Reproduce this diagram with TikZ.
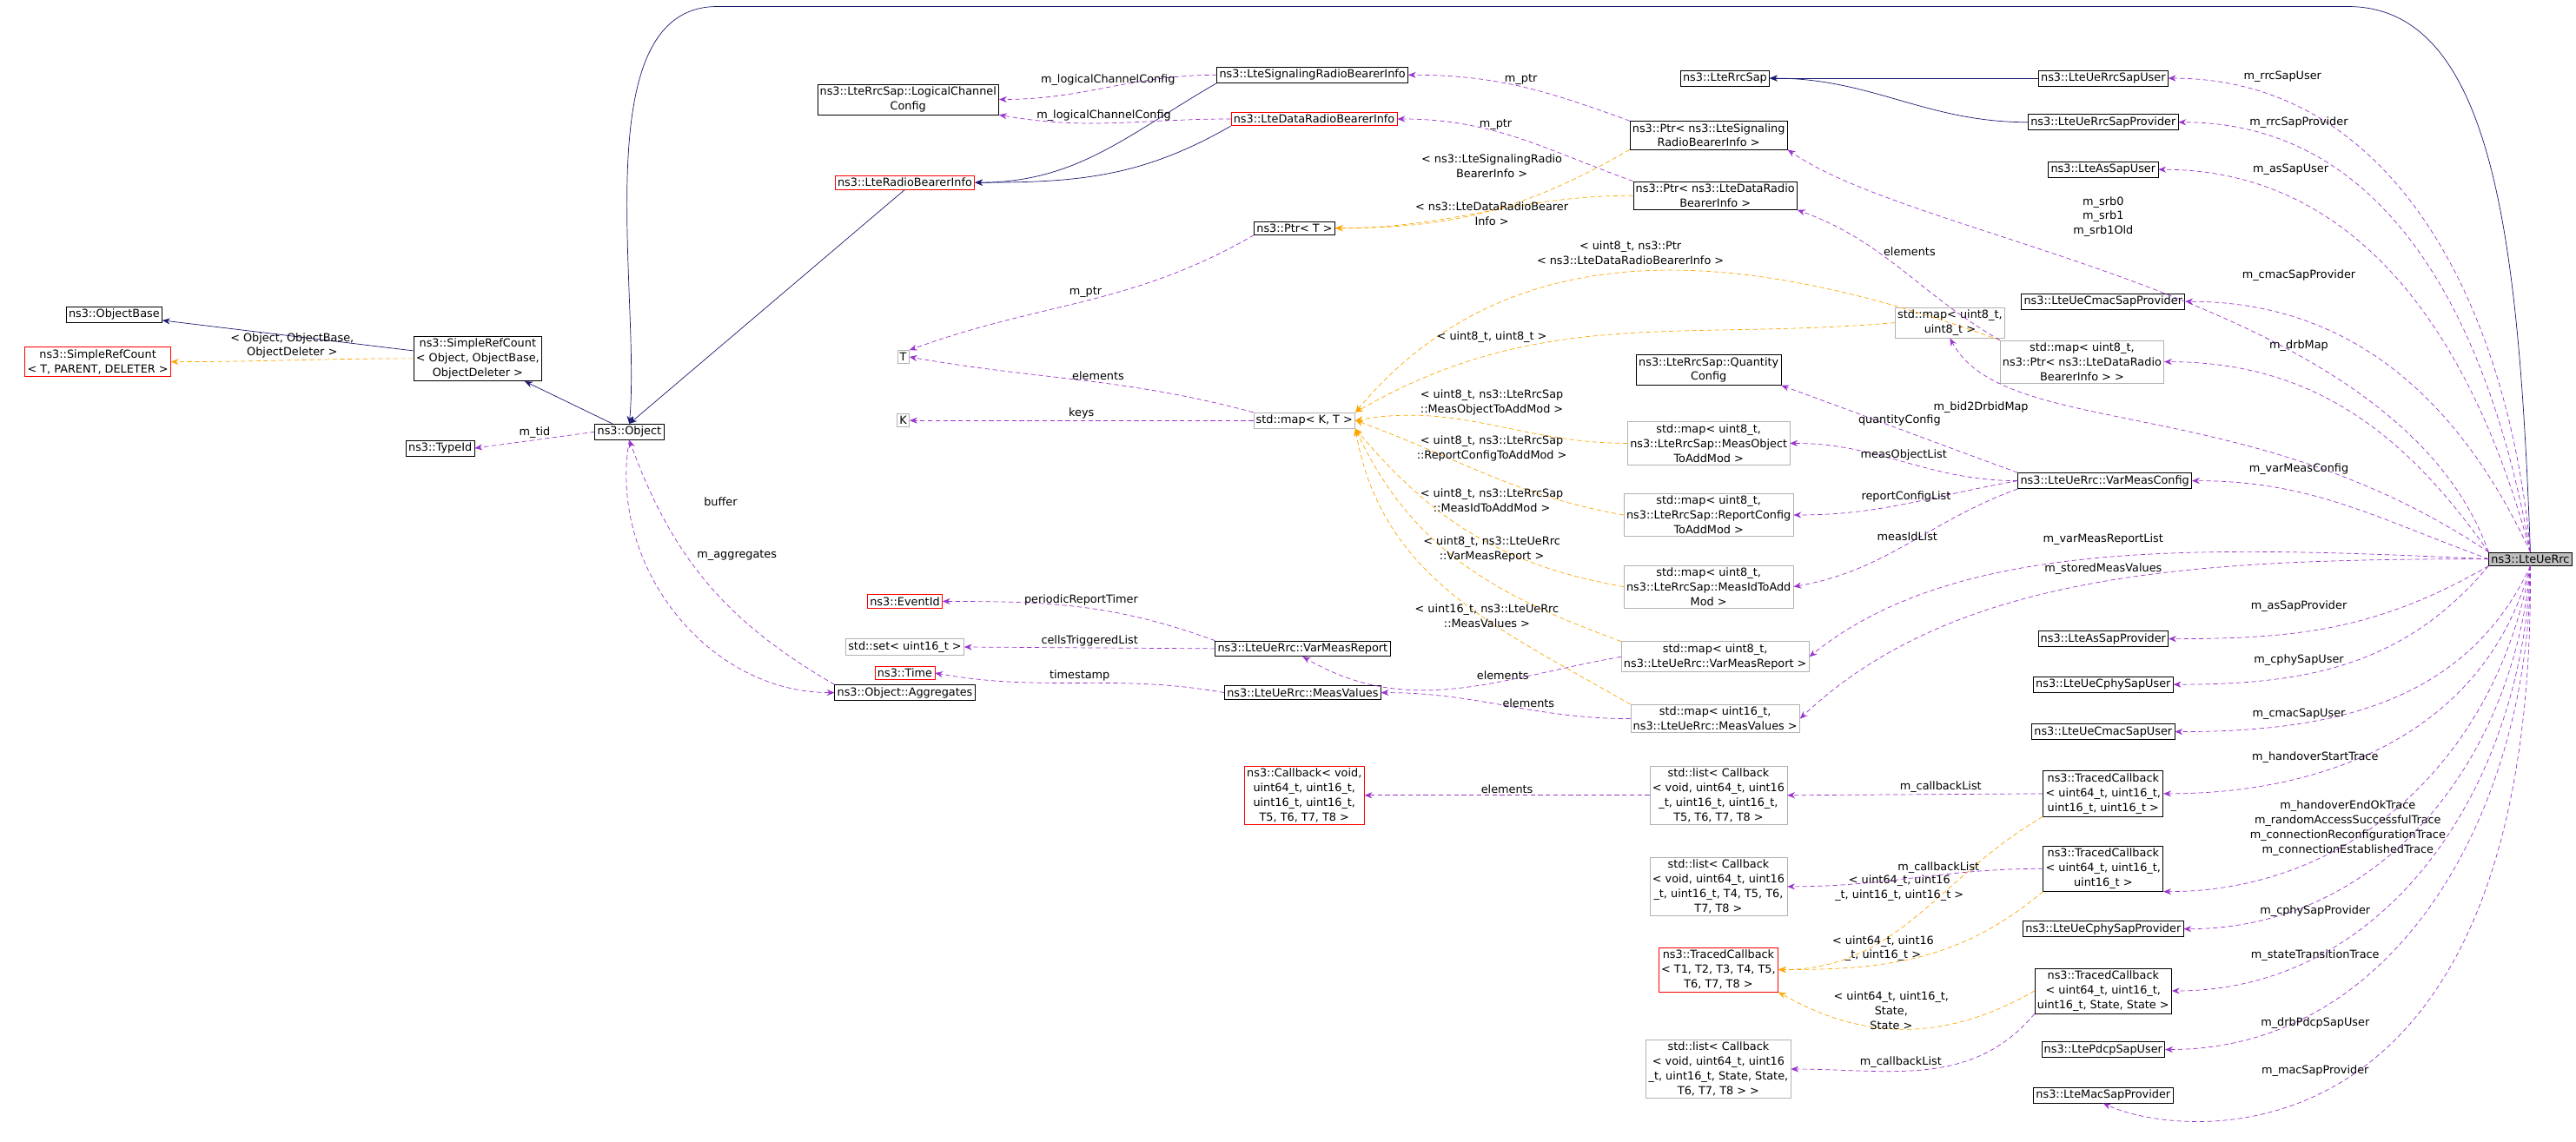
\documentclass[tikz,border=0pt]{standalone}
\usepackage{fontspec}
\setmainfont{DejaVu Sans}
\usetikzlibrary{arrows.meta}
\definecolor{pur}{HTML}{9A32CD}
\definecolor{blu}{HTML}{191970}
\definecolor{ora}{HTML}{FFA500}
\newcommand{\ff}{\fontsize{7.3}{9.6}\selectfont}
\tikzset{
 n/.style={draw=black,font=\ff,inner sep=1.6pt,align=center,fill=white},
 g/.style={n,draw=black!30},
 r/.style={n,draw=red},
 mem/.style={draw=pur,dash pattern=on 3pt off 2pt,-{Stealth[length=5pt,width=4pt]}},
 inh/.style={draw=blu,-{Stealth[length=5pt,width=4pt]}},
 tpl/.style={draw=ora,dash pattern=on 3pt off 2pt,-{Stealth[length=5pt,width=4pt]}},
 lab/.style={font=\ff,align=center,inner sep=0pt}
}
\begin{document}
\begin{tikzpicture}[x=0.0375cm,y=-0.0375cm]
\useasboundingbox (0,0) rectangle (1580,700.7);
% nodes
\node[n,fill=black!25] (rrc) at (1552,343) {ns3::LteUeRrc};
\node[n] (ob) at (70,193) {ns3::ObjectBase};
\node[r] (srct) at (60,222) {ns3::SimpleRefCount\\< T, PARENT, DELETER >};
\node[n] (srco) at (293,220) {ns3::SimpleRefCount\\< Object, ObjectBase,\\ObjectDeleter >};
\node[n] (tid) at (270,275) {ns3::TypeId};
\node[n] (obj) at (386,265) {ns3::Object};
\node[n] (agg) at (555,425) {ns3::Object::Aggregates};
\node[r] (rbi) at (555,112) {ns3::LteRadioBearerInfo};
\node[n] (lcc) at (557,61) {ns3::LteRrcSap::LogicalChannel\\Config};
\node[n] (srbi) at (805,46) {ns3::LteSignalingRadioBearerInfo};
\node[r] (drbi) at (806,73) {ns3::LteDataRadioBearerInfo};
\node[n] (rsap) at (1058,48) {ns3::LteRrcSap};
\node[n] (psig) at (1048,83) {ns3::Ptr< ns3::LteSignaling\\RadioBearerInfo >};
\node[n] (pdat) at (1052,120) {ns3::Ptr< ns3::LteDataRadio\\BearerInfo >};
\node[n] (ptrt) at (794,140) {ns3::Ptr< T >};
\node[g] (T) at (554,219) {T};
\node[g] (K) at (554,258) {K};
\node[g] (mkt) at (800,258) {std::map< K, T >};
\node[g] (mu8) at (1196,198) {std::map< uint8\_t,\\uint8\_t >};
\node[g] (mpd) at (1277,222) {std::map< uint8\_t,\\ns3::Ptr< ns3::LteDataRadio\\BearerInfo > >};
\node[n] (qc) at (1048,227) {ns3::LteRrcSap::Quantity\\Config};
\node[g] (mmo) at (1048,272) {std::map< uint8\_t,\\ns3::LteRrcSap::MeasObject\\ToAddMod >};
\node[g] (mrc) at (1048,316) {std::map< uint8\_t,\\ns3::LteRrcSap::ReportConfig\\ToAddMod >};
\node[g] (mmi) at (1048,360) {std::map< uint8\_t,\\ns3::LteRrcSap::MeasIdToAdd\\Mod >};
\node[g] (mvr) at (1052,403) {std::map< uint8\_t,\\ns3::LteUeRrc::VarMeasReport >};
\node[g] (mmv) at (1052,441) {std::map< uint16\_t,\\ns3::LteUeRrc::MeasValues >};
\node[n] (vmc) at (1291,295) {ns3::LteUeRrc::VarMeasConfig};
\node[r] (eid) at (555,369) {ns3::EventId};
\node[g] (set) at (555,397) {std::set< uint16\_t >};
\node[r] (time) at (555,413) {ns3::Time};
\node[n] (vmr) at (799,398) {ns3::LteUeRrc::VarMeasReport};
\node[n] (mv) at (799,425) {ns3::LteUeRrc::MeasValues};
\node[r] (cb) at (800,488) {ns3::Callback< void,\\uint64\_t, uint16\_t,\\uint16\_t, uint16\_t,\\T5, T6, T7, T8 >};
\node[g] (l1) at (1054,488) {std::list< Callback\\< void, uint64\_t, uint16\\\_t, uint16\_t, uint16\_t,\\T5, T6, T7, T8 >};
\node[g] (l2) at (1054,544) {std::list< Callback\\< void, uint64\_t, uint16\\\_t, uint16\_t, T4, T5, T6,\\T7, T8 >};
\node[r] (tct) at (1054,595) {ns3::TracedCallback\\< T1, T2, T3, T4, T5,\\T6, T7, T8 >};
\node[g] (l3) at (1054,656) {std::list< Callback\\< void, uint64\_t, uint16\\\_t, uint16\_t, State, State,\\T6, T7, T8 > >};
\node[n] (rsu) at (1290,48) {ns3::LteUeRrcSapUser};
\node[n] (rsp) at (1290,75) {ns3::LteUeRrcSapProvider};
\node[n] (asu) at (1290,104) {ns3::LteAsSapUser};
\node[n] (cmp) at (1290,185) {ns3::LteUeCmacSapProvider};
\node[n] (asp) at (1290,392) {ns3::LteAsSapProvider};
\node[n] (cpu) at (1290,420) {ns3::LteUeCphySapUser};
\node[n] (cmu) at (1290,449) {ns3::LteUeCmacSapUser};
\node[n] (tc4) at (1290,487) {ns3::TracedCallback\\< uint64\_t, uint16\_t,\\uint16\_t, uint16\_t >};
\node[n] (tc3) at (1290,533) {ns3::TracedCallback\\< uint64\_t, uint16\_t,\\uint16\_t >};
\node[n] (cpp) at (1290,570) {ns3::LteUeCphySapProvider};
\node[n] (tc5) at (1290,608) {ns3::TracedCallback\\< uint64\_t, uint16\_t,\\uint16\_t, State, State >};
\node[n] (pdu) at (1290,644) {ns3::LtePdcpSapUser};
\node[n] (msp) at (1290,672) {ns3::LteMacSapProvider};
\coordinate (tr) at (1440,4);
\coordinate (tl) at (440,4);
% inheritance
\draw[inh] (srco) -- (ob);
\draw[inh] (obj) -- (srco);
\draw[inh] (rbi.south) -- (obj.north);
\draw[inh] (srbi.south west) to[out=-150,in=0] (rbi.east);
\draw[inh] (drbi.south west) to[out=-150,in=0] (rbi.east);
\draw[inh] (rsu) -- (rsap);
\draw[inh] (rsp.west) to[out=180,in=0] (rsap.east);
\draw[inh] (rrc.north) .. controls (1545,150) and (1530,4) .. (tr) -- (tl) to[out=180,in=85,looseness=0.8] (obj.north);
% templates
\draw[tpl] (srco.west) to[out=180,in=0] node[lab,above=1pt,pos=0.5]{< Object, ObjectBase,\\ObjectDeleter >} (srct.east);
\draw[tpl] (psig.south west) to[out=-150,in=0] (ptrt.east);
\node[lab] at (915,102) {< ns3::LteSignalingRadio\\BearerInfo >};
\draw[tpl] (pdat.west) to[out=180,in=0] (ptrt.east);
\node[lab] at (915,131) {< ns3::LteDataRadioBearer\\Info >};
\draw[tpl] (mpd.north west) to[out=160,in=50] (mkt.north east);
\node[lab] at (1000,155) {< uint8\_t, ns3::Ptr\\< ns3::LteDataRadioBearerInfo >};
\draw[tpl] (mu8.west) to[out=185,in=30] (mkt.north east);
\node[lab] at (915,207) {< uint8\_t, uint8\_t >};
\draw[tpl] (mmo.west) to[out=180,in=10] (mkt.east);
\node[lab] at (915,247) {< uint8\_t, ns3::LteRrcSap\\::MeasObjectToAddMod >};
\draw[tpl] (mrc.west) to[out=170,in=-20] (mkt.east);
\node[lab] at (915,275) {< uint8\_t, ns3::LteRrcSap\\::ReportConfigToAddMod >};
\draw[tpl] (mmi.west) to[out=170,in=-50] (mkt.south east);
\node[lab] at (915,307) {< uint8\_t, ns3::LteRrcSap\\::MeasIdToAddMod >};
\draw[tpl] (mvr.north west) to[out=160,in=-65] (mkt.south east);
\node[lab] at (915,337) {< uint8\_t, ns3::LteUeRrc\\::VarMeasReport >};
\draw[tpl] (mmv.north west) to[out=150,in=-80] (mkt.south east);
\node[lab] at (912,378) {< uint16\_t, ns3::LteUeRrc\\::MeasValues >};
\draw[tpl] (tc4.south west) to[out=-150,in=0] (tct.east);
\node[lab] at (1165,545) {< uint64\_t, uint16\\\_t, uint16\_t, uint16\_t >};
\draw[tpl] (tc3.south west) to[out=-140,in=0] (tct.east);
\node[lab] at (1155,582) {< uint64\_t, uint16\\\_t, uint16\_t >};
\draw[tpl] (tc5.west) to[out=-150,in=-30] (tct.south east);
\node[lab] at (1160,620) {< uint64\_t, uint16\_t,\\State,\\State >};
% members inside
\draw[mem] (srbi.west) to[out=180,in=0] node[lab,above=1pt]{m\_logicalChannelConfig} (lcc.east);
\draw[mem] (drbi.west) to[out=180,in=-10] node[lab,above=1pt,pos=0.55]{m\_logicalChannelConfig} (lcc.south east);
\draw[mem] (psig.north west) to[out=160,in=0] node[lab,above=1pt]{m\_ptr} (srbi.east);
\draw[mem] (pdat.north west) to[out=160,in=0] node[lab,above=1pt,pos=0.6]{m\_ptr} (drbi.east);
\draw[mem] (ptrt.south west) to[out=-150,in=20] node[lab,above=2pt,pos=0.5]{m\_ptr} (T.north east);
\draw[mem] (mkt.north west) to[out=165,in=-10] node[lab,above=1pt,pos=0.45]{elements} (T.east);
\draw[mem] (mkt.west) -- node[lab,above=1pt]{keys} (K.east);
\draw[mem] (obj.west) -- node[lab,above=1pt]{m\_tid} (tid.east);
\draw[mem] (agg.north west) to[out=150,in=-70] (obj.south);
\node[lab] at (442,308) {buffer};
\draw[mem] (obj.south) to[out=-100,in=180] (agg.west);
\node[lab] at (452,341) {m\_aggregates};
\draw[mem] (mpd.north west) to[out=150,in=-20] node[lab,pos=0.6,above right=0pt]{elements} (pdat.south east);
\draw[mem] (vmc.north west) to[out=160,in=-20] node[lab,pos=0.5,above=2pt]{quantityConfig} (qc.south east);
\draw[mem] (vmc.west) to[out=180,in=0] node[lab,pos=0.5,above=1pt]{measObjectList} (mmo.east);
\draw[mem] (vmc.west) to[out=190,in=0] node[lab,pos=0.5,above=1pt]{reportConfigList} (mrc.east);
\draw[mem] (vmc.south west) to[out=-160,in=10] node[lab,pos=0.5,above=2pt]{measIdList} (mmi.east);
\draw[mem] (vmr.north west) to[out=160,in=0] node[lab,above=1pt]{periodicReportTimer} (eid.east);
\draw[mem] (vmr.west) -- node[lab,above=1pt]{cellsTriggeredList} (set.east);
\draw[mem] (mv.west) to[out=170,in=-10] node[lab,above=1pt]{timestamp} (time.east);
\draw[mem] (mvr.west) to[out=-170,in=-30] node[lab,above=1pt,pos=0.35]{elements} (vmr.south);
\draw[mem] (mmv.west) to[out=180,in=0] node[lab,above=1pt,pos=0.4]{elements} (mv.east);
\draw[mem] (l1.west) -- node[lab,above=1pt]{elements} (cb.east);
\draw[mem] (tc4.west) -- node[lab,above=1pt,pos=0.4]{m\_callbackList} (l1.east);
\draw[mem] (tc3.west) to[out=180,in=0] node[lab,above=1pt,pos=0.4]{m\_callbackList} (l2.east);
\draw[mem] (tc5.south west) to[out=-130,in=0] node[lab,above=2pt,pos=0.6]{m\_callbackList} (l3.east);
% members from rrc
\draw[mem] (rrc.north) to[out=95,in=0] (rsu.east);
\node[lab] at (1400,47) {m\_rrcSapUser};
\draw[mem] (rrc.north) to[out=100,in=0] (rsp.east);
\node[lab] at (1410,75) {m\_rrcSapProvider};
\draw[mem] (rrc.north) to[out=105,in=0] (asu.east);
\node[lab] at (1405,104) {m\_asSapUser};
\draw[mem] (rrc.north west) .. controls (1470,180) and (1180,150) .. (psig.south east);
\node[lab] at (1290,133) {m\_srb0\\m\_srb1\\m\_srb1Old};
\draw[mem] (rrc.north) to[out=115,in=0] (cmp.east);
\node[lab] at (1410,169) {m\_cmacSapProvider};
\draw[mem] (rrc.north west) to[out=125,in=0] (mpd.east);
\node[lab] at (1410,212) {m\_drbMap};
\draw[mem] (rrc.north west) .. controls (1380,240) and (1230,270) .. (mu8.south);
\node[lab] at (1215,250) {m\_bid2DrbidMap};
\draw[mem] (rrc.west) to[out=160,in=0] (vmc.east);
\node[lab] at (1410,288) {m\_varMeasConfig};
\draw[mem] (rrc.west) .. controls (1350,335) and (1200,330) .. (mvr.east);
\node[lab] at (1290,331) {m\_varMeasReportList};
\draw[mem] (rrc.west) .. controls (1350,343) and (1200,350) .. (mmv.east);
\node[lab] at (1290,349) {m\_storedMeasValues};
\draw[mem] (rrc.south west) to[out=-150,in=0] (asp.east);
\node[lab] at (1410,372) {m\_asSapProvider};
\draw[mem] (rrc.south west) to[out=-130,in=0] (cpu.east);
\node[lab] at (1410,405) {m\_cphySapUser};
\draw[mem] (rrc.south) to[out=-115,in=0] (cmu.east);
\node[lab] at (1410,438) {m\_cmacSapUser};
\draw[mem] (rrc.south) to[out=-105,in=0] (tc4.east);
\node[lab] at (1420,465) {m\_handoverStartTrace};
\draw[mem] (rrc.south) to[out=-100,in=0] (tc3.south east);
\node[lab] at (1440,508) {m\_handoverEndOkTrace\\m\_randomAccessSuccessfulTrace\\m\_connectionReconfigurationTrace\\m\_connectionEstablishedTrace};
\draw[mem] (rrc.south) to[out=-95,in=0] (cpp.east);
\node[lab] at (1420,559) {m\_cphySapProvider};
\draw[mem] (rrc.south) to[out=-92,in=0] (tc5.east);
\node[lab] at (1420,586) {m\_stateTransitionTrace};
\draw[mem] (rrc.south) to[out=-90,in=0] (pdu.east);
\node[lab] at (1420,628) {m\_drbPdcpSapUser};
\draw[mem] (rrc.south) .. controls (1555,720) and (1340,700) .. (msp.south);
\node[lab] at (1420,657) {m\_macSapProvider};
\end{tikzpicture}
\end{document}
